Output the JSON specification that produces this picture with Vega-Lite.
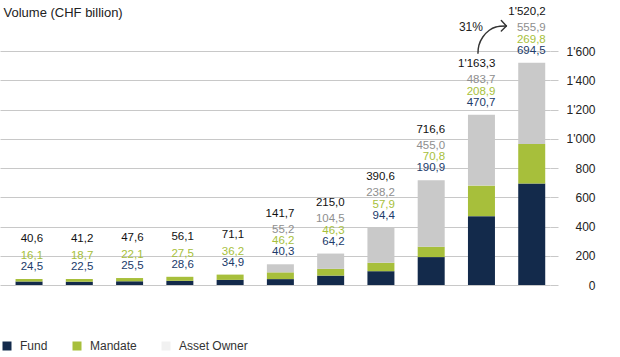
{
  "$schema": "https://vega.github.io/schema/vega-lite/v6.json",
  "width": 550,
  "height": 234,
  "autosize": {"type": "none"},
  "padding": {"left": 0, "top": 51, "right": 70, "bottom": 72},
  "background": "white",
  "config": {
    "locale": {"number": {"decimal": ",", "thousands": "'", "grouping": [3], "currency": ["", ""]}},
    "font": "Liberation Sans",
    "view": {"stroke": null}
  },
  "datasets": {
    "volume": [
      {"year": 2010, "Fund": 24.5, "Mandate": 16.1, "Asset Owner": 0, "Total": 40.6},
      {"year": 2011, "Fund": 22.5, "Mandate": 18.7, "Asset Owner": 0, "Total": 41.2},
      {"year": 2012, "Fund": 25.5, "Mandate": 22.1, "Asset Owner": 0, "Total": 47.6},
      {"year": 2013, "Fund": 28.6, "Mandate": 27.5, "Asset Owner": 0, "Total": 56.1},
      {"year": 2014, "Fund": 34.9, "Mandate": 36.2, "Asset Owner": 0, "Total": 71.1},
      {"year": 2015, "Fund": 40.3, "Mandate": 46.2, "Asset Owner": 55.2, "Total": 141.7},
      {"year": 2016, "Fund": 64.2, "Mandate": 46.3, "Asset Owner": 104.5, "Total": 215.0},
      {"year": 2017, "Fund": 94.4, "Mandate": 57.9, "Asset Owner": 238.2, "Total": 390.6},
      {"year": 2018, "Fund": 190.9, "Mandate": 70.8, "Asset Owner": 455.0, "Total": 716.6},
      {"year": 2019, "Fund": 470.7, "Mandate": 208.9, "Asset Owner": 483.7, "Total": 1163.3},
      {"year": 2020, "Fund": 694.5, "Mandate": 269.8, "Asset Owner": 555.9, "Total": 1520.2}
    ],
    "arrow": [
      {"pos": 2018.930, "level": 1581.5},
      {"pos": 2018.949, "level": 1639.0},
      {"pos": 2019.027, "level": 1695.7},
      {"pos": 2019.156, "level": 1741.5},
      {"pos": 2019.287, "level": 1764.1},
      {"pos": 2019.490, "level": 1770.9}
    ],
    "head": [
      {"pos": 2019.395, "level": 1808.5, "pos2": 2019.496, "level2": 1770.9},
      {"pos": 2019.395, "level": 1736.8, "pos2": 2019.496, "level2": 1770.9}
    ],
    "note": [{"pos": 2018.79, "level": 1767, "label": "31%"}]
  },
  "layer": [
    {
      "data": {"name": "volume"},
      "transform": [
        {"fold": ["Fund", "Mandate", "Asset Owner"], "as": ["type", "value"]},
        {"window": [{"op": "row_number", "as": "rank"}], "groupby": ["year"]}
      ],
      "mark": {"type": "bar", "size": 27},
      "encoding": {
        "x": {
          "field": "year", "type": "quantitative",
          "scale": {"domain": [2009.5215, 2020.264], "nice": false, "zero": false},
          "axis": {"values": [2010, 2011, 2012, 2013, 2014, 2015, 2016, 2017, 2018, 2019, 2020], "format": "d", "title": null, "domain": false, "ticks": false, "grid": false, "labelFontSize": 11.5, "labelColor": "#222222", "labelPadding": 8, "labelFlush": false}
        },
        "y": {
          "field": "value", "type": "quantitative", "stack": "zero",
          "scale": {"domain": [0, 1600], "nice": false},
          "axis": {"orient": "right", "values": [0, 200, 400, 600, 800, 1000, 1200, 1400, 1600], "format": ",d", "title": null, "domain": false, "tickSize": 8, "tickColor": "#c8c8c8", "gridColor": "#c8c8c8", "labelAlign": "right", "labelPadding": 37, "labelFontSize": 12, "labelColor": "#222222"}
        },
        "color": {
          "condition": {"test": "datum.type === 'Asset Owner'", "value": "#c9c9c9"},
          "field": "type", "type": "nominal",
          "scale": {"domain": ["Fund", "Mandate", "Asset Owner"], "range": ["#132a4b", "#a7bf3b", "#f1f1f1"]},
          "legend": {
            "orient": "none", "legendX": 1, "legendY": 289, "direction": "horizontal", "title": null,
            "symbolType": "square", "symbolSize": 81, "symbolStrokeWidth": 0,
            "labelFontSize": 12, "labelColor": "#333333", "labelOffset": 7, "columnPadding": 23
          }
        },
        "order": {"field": "rank", "type": "quantitative", "sort": "ascending"}
      }
    },
    {
      "data": {"name": "volume"},
      "mark": {"type": "text", "align": "right", "dx": 14, "dy": -12, "fontSize": 11.5, "baseline": "middle", "color": "#203a6a"},
      "encoding": {
        "x": {"field": "year", "type": "quantitative", "axis": null},
        "y": {"field": "Total", "type": "quantitative", "axis": {"orient": "left", "title": "Volume (CHF billion)", "titleAngle": 0, "titleAlign": "left", "titleBaseline": "middle", "titleX": 3, "titleY": -39, "titleFontSize": 13, "titleFontWeight": "normal", "titleColor": "#222222", "labels": false, "ticks": false, "domain": false, "grid": false}},
        "text": {"field": "Fund", "type": "quantitative", "format": ",.1f"}
      }
    },
    {
      "data": {"name": "volume"},
      "mark": {"type": "text", "align": "right", "dx": 14, "dy": -23, "fontSize": 11.5, "baseline": "middle", "color": "#a7bf3b"},
      "encoding": {
        "x": {"field": "year", "type": "quantitative", "axis": null},
        "y": {"field": "Total", "type": "quantitative", "axis": null},
        "text": {"field": "Mandate", "type": "quantitative", "format": ",.1f"}
      }
    },
    {
      "data": {"name": "volume"},
      "transform": [{"filter": "datum['Asset Owner'] > 0"}],
      "mark": {"type": "text", "align": "right", "dx": 14, "dy": -34.5, "fontSize": 11.5, "baseline": "middle", "color": "#8e8e8e"},
      "encoding": {
        "x": {"field": "year", "type": "quantitative", "axis": null},
        "y": {"field": "Total", "type": "quantitative", "axis": null},
        "text": {"field": "Asset Owner", "type": "quantitative", "format": ",.1f"}
      }
    },
    {
      "data": {"name": "volume"},
      "transform": [{"filter": "datum.year <= 2014"}],
      "mark": {"type": "text", "align": "right", "dx": 14, "dy": -40, "fontSize": 11.5, "baseline": "middle", "color": "#111111"},
      "encoding": {
        "x": {"field": "year", "type": "quantitative", "axis": null},
        "y": {"field": "Total", "type": "quantitative", "axis": null},
        "text": {"field": "Total", "type": "quantitative", "format": ",.1f"}
      }
    },
    {
      "data": {"name": "volume"},
      "transform": [{"filter": "datum.year >= 2015"}],
      "mark": {"type": "text", "align": "right", "dx": 14, "dy": -50.5, "fontSize": 11.5, "baseline": "middle", "color": "#111111"},
      "encoding": {
        "x": {"field": "year", "type": "quantitative", "axis": null},
        "y": {"field": "Total", "type": "quantitative", "axis": null},
        "text": {"field": "Total", "type": "quantitative", "format": ",.1f"}
      }
    },
    {
      "data": {"name": "arrow"},
      "mark": {"type": "line", "interpolate": "catmull-rom", "color": "#333333", "strokeWidth": 1.4},
      "encoding": {
        "x": {"field": "pos", "type": "quantitative", "axis": null},
        "y": {"field": "level", "type": "quantitative", "axis": null}
      }
    },
    {
      "data": {"name": "head"},
      "mark": {"type": "rule", "color": "#333333", "strokeWidth": 1.4, "strokeCap": "round"},
      "encoding": {
        "x": {"field": "pos", "type": "quantitative", "axis": null},
        "y": {"field": "level", "type": "quantitative", "axis": null},
        "x2": {"field": "pos2"},
        "y2": {"field": "level2"}
      }
    },
    {
      "data": {"name": "note"},
      "mark": {"type": "text", "align": "center", "baseline": "middle", "fontSize": 12, "color": "#222222"},
      "encoding": {
        "x": {"field": "pos", "type": "quantitative", "axis": null},
        "y": {"field": "level", "type": "quantitative", "axis": null},
        "text": {"field": "label"}
      }
    }
  ]
}
